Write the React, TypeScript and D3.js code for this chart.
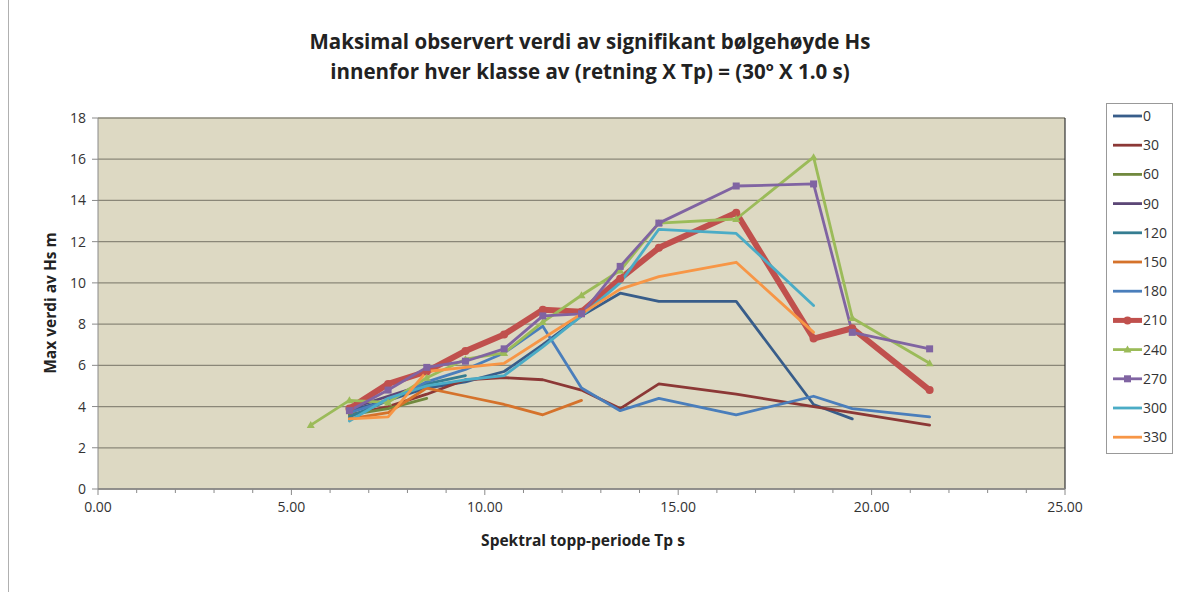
import React from "react";
import * as d3 from "d3";

const TITLE1 = "Maksimal observert verdi av signifikant bølgehøyde Hs";
const TITLE2 = "innenfor hver klasse av (retning X Tp) = (30º X 1.0 s)";
const X_TITLE = "Spektral topp-periode Tp s";
const Y_TITLE = "Max verdi av Hs m";

const xTicks = [0, 5, 10, 15, 20, 25];
const yTicks = [0, 2, 4, 6, 8, 10, 12, 14, 16, 18];

const s0 = [[6.5, 3.8], [7.5, 4.3], [8.5, 4.9], [9.5, 5.2], [10.5, 5.7], [11.5, 7.0], [12.5, 8.4], [13.5, 9.5], [14.5, 9.1], [16.5, 9.1], [18.5, 4.1], [19.5, 3.4]];
const s30 = [[6.5, 3.6], [7.5, 4.0], [8.5, 4.6], [9.5, 5.3], [10.5, 5.4], [11.5, 5.3], [12.5, 4.8], [13.5, 3.9], [14.5, 5.1], [16.5, 4.6], [18.5, 4.0], [19.5, 3.7], [21.5, 3.1]];
const s60 = [[6.5, 3.6], [7.5, 3.9], [8.5, 4.4]];
const s90 = [[6.5, 3.9], [7.5, 4.5], [8.5, 5.1]];
const s120 = [[6.5, 3.5], [7.5, 4.3], [8.5, 5.1], [9.5, 5.5]];
const s150 = [[6.5, 3.4], [7.5, 3.7], [8.5, 4.9], [9.5, 4.5], [10.5, 4.1], [11.5, 3.6], [12.5, 4.3]];
const s180 = [[6.5, 3.7], [7.5, 4.3], [8.5, 5.2], [9.5, 5.8], [10.5, 6.6], [11.5, 7.9], [12.5, 4.9], [13.5, 3.8], [14.5, 4.4], [16.5, 3.6], [18.5, 4.5], [19.5, 3.9], [21.5, 3.5]];
const s210 = [[6.5, 3.9], [7.5, 5.1], [8.5, 5.7], [9.5, 6.7], [10.5, 7.5], [11.5, 8.7], [12.5, 8.6], [13.5, 10.2], [14.5, 11.7], [16.5, 13.4], [18.5, 7.3], [19.5, 7.8], [21.5, 4.8]];
const s240 = [[5.5, 3.1], [6.5, 4.3], [7.5, 4.2], [8.5, 5.4], [9.5, 6.3], [10.5, 6.6], [11.5, 8.1], [12.5, 9.4], [13.5, 10.6], [14.5, 12.9], [16.5, 13.1], [18.5, 16.1], [19.5, 8.3], [21.5, 6.1]];
const s270 = [[6.5, 3.8], [7.5, 4.8], [8.5, 5.9], [9.5, 6.2], [10.5, 6.8], [11.5, 8.4], [12.5, 8.5], [13.5, 10.8], [14.5, 12.9], [16.5, 14.7], [18.5, 14.8], [19.5, 7.6], [21.5, 6.8]];
const s300 = [[6.5, 3.3], [7.5, 4.4], [8.5, 5.0], [9.5, 5.3], [10.5, 5.5], [11.5, 6.9], [12.5, 8.4], [13.5, 10.0], [14.5, 12.6], [16.5, 12.4], [18.5, 8.9]];
const s330 = [[6.5, 3.4], [7.5, 3.5], [8.5, 5.7], [9.5, 5.9], [10.5, 6.1], [11.5, 7.3], [12.5, 8.5], [13.5, 9.7], [14.5, 10.3], [16.5, 11.0], [18.5, 7.6]];

const seriesNames = ["0", "30", "60", "90", "120", "150", "180", "210", "240", "270", "300", "330"];
const seriesData = [s0, s30, s60, s90, s120, s150, s180, s210, s240, s270, s300, s330];
const seriesColors = ["#385D8A", "#8C3836", "#71893F", "#5C4776", "#357D91", "#D5722B", "#4A7EBB", "#C0504D", "#9BBB59", "#8064A2", "#4BACC6", "#F79646"];
const seriesWidths = [2.8, 2.8, 2.8, 2.8, 2.8, 2.8, 2.8, 6, 2.8, 2.8, 2.8, 2.8];
const seriesMarkers = ["", "", "", "", "", "", "", "circle", "triangle", "square", "", ""];

const W = 1182, H = 596;
const L = 98, R = 1065, T = 118, B = 489;

export default function App() {
  const x = d3.scaleLinear().domain([0, 25]).range([L, R]);
  const y = d3.scaleLinear().domain([0, 18]).range([B, T]);
  const line = d3.line<number[]>().x(d => x(d[0])).y(d => y(d[1]));
  const minor = d3.range(0, 26, 1);
  const font = "Open Sans, Liberation Sans, sans-serif";

  const marker = (type: string, cx: number, cy: number, color: string, key: string) => {
    if (type === "square") return <rect key={key} x={cx - 3.5} y={cy - 3.5} width={7} height={7} fill={color} />;
    if (type === "triangle") return <path key={key} d={`M${cx},${cy - 4}L${cx + 4},${cy + 3}L${cx - 4},${cy + 3}Z`} fill={color} />;
    if (type === "circle") return <circle key={key} cx={cx} cy={cy} r={4} fill={color} />;
    return null;
  };

  return (
    <div style={{ position: "absolute", left: 0, top: 0 }}>
      <svg width={W} height={H} style={{ display: "block", background: "#fff" }}>
        <line x1={8.5} x2={8.5} y1={0} y2={592} stroke="#b0b0b0" strokeWidth={1} />
        <text x={590} y={49} textAnchor="middle" fontFamily={font} fontWeight="bold" fontSize={20.5} fill="#222">{TITLE1}</text>
        <text x={590} y={79} textAnchor="middle" fontFamily={font} fontWeight="bold" fontSize={20.5} fill="#222">{TITLE2}</text>

        <rect x={L} y={T} width={R - L} height={B - T} fill="#DDD9C3" />
        {yTicks.map(t => (
          <g key={"y" + t}>
            <line x1={L} x2={R} y1={y(t)} y2={y(t)} stroke="#8a8778" strokeWidth={1.3} />
            <line x1={L - 6} x2={L} y1={y(t)} y2={y(t)} stroke="#8a8a8a" />
            <text x={L - 12} y={y(t) + 5} textAnchor="end" fontFamily={font} fontSize={14} fill="#333">{t}</text>
          </g>
        ))}
        <line x1={R} x2={R} y1={T} y2={B} stroke="#333" strokeWidth={1.2} />
        <line x1={L} x2={L} y1={T} y2={B} stroke="#8a8a8a" strokeWidth={1} />
        <line x1={L} x2={R} y1={B} y2={B} stroke="#8a8a8a" strokeWidth={1.3} />
        {minor.map(t => (
          <line key={"m" + t} x1={x(t)} x2={x(t)} y1={B} y2={B + (t % 5 === 0 ? 6 : 4)} stroke="#8a8a8a" />
        ))}
        {xTicks.map(t => (
          <text key={"x" + t} x={x(t)} y={B + 23} textAnchor="middle" fontFamily={font} fontSize={14} fill="#333">{t.toFixed(2)}</text>
        ))}

        {seriesData.map((s, i) => (
          <path key={"s" + i} d={line(s) || ""} fill="none" stroke={seriesColors[i]} strokeWidth={seriesWidths[i]} strokeLinejoin="round" strokeLinecap="round" />
        ))}
        {seriesData.map((s, i) => seriesMarkers[i] ? s.map((p, j) => marker(seriesMarkers[i], x(p[0]), y(p[1]), seriesColors[i], `mk${i}-${j}`)) : null)}

        <text x={583} y={546} textAnchor="middle" fontFamily={font} fontWeight="bold" fontSize={15.5} fill="#222">{X_TITLE}</text>
        <text transform={`translate(56,303) rotate(-90)`} textAnchor="middle" fontFamily={font} fontWeight="bold" fontSize={15.5} fill="#222">{Y_TITLE}</text>

        <rect x={1106.5} y={103.5} width={66} height={350} fill="#fff" stroke="#999" />
        {seriesNames.map((n, i) => {
          const ly = 116 + i * 29.2;
          return (
            <g key={"l" + i}>
              <line x1={1113} x2={1142} y1={ly} y2={ly} stroke={seriesColors[i]} strokeWidth={seriesWidths[i] === 6 ? 5 : 2.8} />
              {seriesMarkers[i] ? marker(seriesMarkers[i], 1127.5, ly, seriesColors[i], "lm" + i) : null}
              <text x={1143} y={ly + 5} fontFamily={font} fontSize={14} fill="#333">{n}</text>
            </g>
          );
        })}
      </svg>
    </div>
  );
}
